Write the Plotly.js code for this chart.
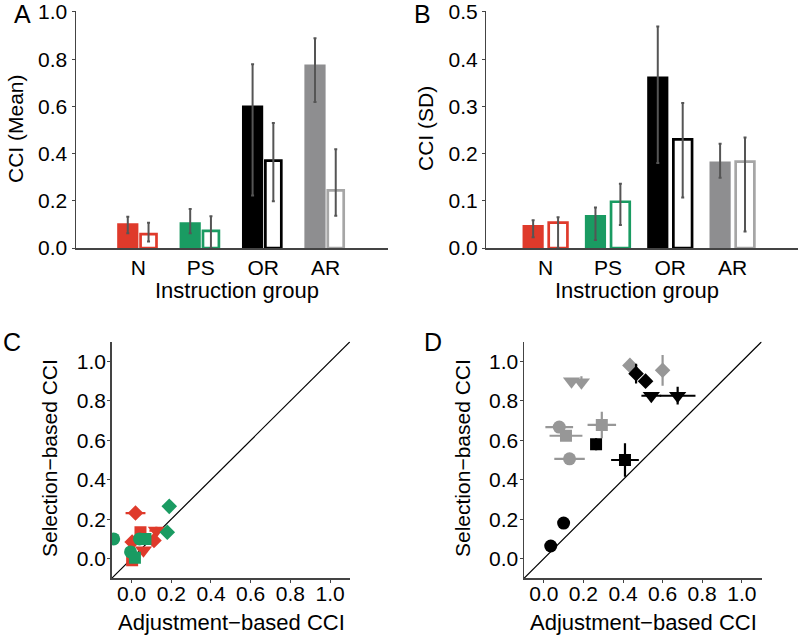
<!DOCTYPE html>
<html>
<head>
<meta charset="utf-8">
<script src="https://cdn.plot.ly/plotly-3.0.1.min.js"></script>
<style>
  html, body { margin: 0; padding: 0; background: #fff; }
  #chart { width: 800px; height: 636px; }
</style>
</head>
<body>
<div id="chart"></div>
<script>
// categories
const groups = ['N', 'PS', 'OR', 'AR'];
const groupPos = [1, 2, 3, 4];

// panel A: CCI mean (filled / open bars, with error bounds)
const meanFilled = [0.105, 0.109, 0.604, 0.777];
const meanFilledHi = [0.132, 0.165, 0.778, 0.888];
const meanFilledLo = [0.063, 0.063, 0.223, 0.618];
const meanOpen = [0.059, 0.073, 0.370, 0.244];
const meanOpenHi = [0.107, 0.135, 0.530, 0.418];
const meanOpenLo = [0.028, 0.000, 0.198, 0.137];

// panel B: CCI SD
const sdFilled = [0.049, 0.070, 0.363, 0.183];
const sdFilledHi = [0.059, 0.086, 0.469, 0.221];
const sdFilledLo = [0.023, 0.017, 0.180, 0.149];
const sdOpen = [0.054, 0.098, 0.230, 0.183];
const sdOpenHi = [0.065, 0.136, 0.307, 0.234];
const sdOpenLo = [0.000, 0.049, 0.107, 0.035];

// y tick values of the bar panels
const meanTicks = [0, 0.2, 0.4, 0.6, 0.8, 1.0];
const sdTicks = [0, 0.1, 0.2, 0.3, 0.4, 0.5];

// panel C: N (red) and PS (green) participants
const cRedX = [0.02, 0.045, 0.125, 0.113, 0.003, 0.06, 0.003];
const cRedY = [0.231, 0.134, 0.142, 0.092, 0.084, 0.042, -0.008];
const cRedSym = ['diamond', 'square', 'triangle-down', 'diamond', 'diamond', 'triangle-down', 'square'];
const cRedEx = [0.05, 0.02, 0.035, 0, 0, 0, 0];
const cRedEy = [0.01, 0.02, 0.02, 0, 0, 0, 0];

const cGreenX = [-0.09, 0.19, 0.18, -0.005, 0.017, 0.04, 0.07];
const cGreenY = [0.10, 0.265, 0.134, 0.034, 0.004, 0.10, 0.10];
const cGreenSym = ['circle', 'diamond', 'diamond', 'circle', 'square', 'circle', 'square'];

// panel D: OR (black) and AR (gray) participants
const dBlackX = [0.035, 0.10, 0.264, 0.41, 0.466, 0.514, 0.543, 0.676];
const dBlackY = [0.064, 0.18, 0.58, 0.50, 0.938, 0.90, 0.826, 0.826];
const dBlackSym = ['circle', 'circle', 'square', 'square', 'diamond', 'diamond', 'triangle-down', 'triangle-down'];
const dBlackEx = [0, 0, 0.015, 0.07, 0.01, 0.01, 0.05, 0.09];
const dBlackEy = [0, 0, 0.03, 0.085, 0.05, 0.01, 0.015, 0.045];

const dGrayX = [0.078, 0.13, 0.112, 0.293, 0.14, 0.19, 0.435, 0.60];
const dGrayY = [0.667, 0.506, 0.623, 0.678, 0.90, 0.895, 0.98, 0.955];
const dGraySym = ['circle', 'circle', 'square', 'square', 'triangle-down', 'triangle-down', 'diamond', 'diamond'];
const dGrayEx = [0.07, 0.077, 0.083, 0.072, 0, 0.01, 0.01, 0];
const dGrayEy = [0.01, 0.01, 0.01, 0.067, 0, 0.03, 0.02, 0.078];

const identityLine = [-0.1, 1.1];
const unitTicks = [0, 0.2, 0.4, 0.6, 0.8, 1.0];

const RED = '#df3a2b';
const GREEN = '#1a9b62';
const BLACK = '#000000';
const GRAY = '#8e8e90';
const LIGHT_GRAY = '#a6a6a6';
const AXIS = '#444444';
const FONT = 'Liberation Sans, Arial, sans-serif';

const barColors = [RED, GREEN, BLACK, GRAY];
const openColors = [RED, GREEN, BLACK, LIGHT_GRAY];
const symbolSize = { circle: 13, square: 12, diamond: 12, 'triangle-down': 15 };

function barTrace({ values, hi, lo, filled, offset, width, xaxis, yaxis }) {
  return {
    type: 'bar',
    x: groupPos,
    y: values,
    xaxis,
    yaxis,
    offset,
    width,
    marker: {
      color: filled ? barColors : '#ffffff',
      line: { color: filled ? barColors : openColors, width: filled ? 0 : 2.7 }
    },
    error_y: {
      type: 'data',
      symmetric: false,
      array: hi.map((h, i) => h - values[i]),
      arrayminus: values.map((v, i) => v - lo[i]),
      color: '#555555',
      thickness: 2,
      width: 1.5
    },
    hoverinfo: 'skip'
  };
}

function pointTrace({ x, y, symbols, color, ex, ey, xaxis, yaxis }) {
  const zeros = x.map(() => 0);
  return {
    type: 'scatter',
    mode: 'markers',
    x,
    y,
    xaxis,
    yaxis,
    marker: {
      color,
      opacity: 1,
      symbol: symbols,
      size: symbols.map((s) => symbolSize[s]),
      line: { width: 0 }
    },
    error_x: { type: 'data', array: ex || zeros, color, thickness: 2.2, width: 0 },
    error_y: { type: 'data', array: ey || zeros, color, thickness: 2.2, width: 0 },
    hoverinfo: 'skip'
  };
}

function identityTrace(xaxis, yaxis) {
  return {
    type: 'scatter',
    mode: 'lines',
    x: identityLine,
    y: identityLine,
    xaxis,
    yaxis,
    line: { color: '#000', width: 1.2 },
    hoverinfo: 'skip'
  };
}

const traces = [
  barTrace({ values: meanFilled, hi: meanFilledHi, lo: meanFilledLo, filled: true, offset: -0.34, width: 0.34, xaxis: 'x', yaxis: 'y' }),
  barTrace({ values: meanOpen, hi: meanOpenHi, lo: meanOpenLo, filled: false, offset: 0.035, width: 0.255, xaxis: 'x', yaxis: 'y' }),
  barTrace({ values: sdFilled, hi: sdFilledHi, lo: sdFilledLo, filled: true, offset: -0.37, width: 0.34, xaxis: 'x2', yaxis: 'y2' }),
  barTrace({ values: sdOpen, hi: sdOpenHi, lo: sdOpenLo, filled: false, offset: 0.05, width: 0.30, xaxis: 'x2', yaxis: 'y2' }),
  identityTrace('x3', 'y3'),
  pointTrace({ x: cRedX, y: cRedY, symbols: cRedSym, color: RED, ex: cRedEx, ey: cRedEy, xaxis: 'x3', yaxis: 'y3' }),
  pointTrace({ x: cGreenX, y: cGreenY, symbols: cGreenSym, color: GREEN, xaxis: 'x3', yaxis: 'y3' }),
  identityTrace('x4', 'y4'),
  pointTrace({ x: dGrayX, y: dGrayY, symbols: dGraySym, color: '#979797', ex: dGrayEx, ey: dGrayEy, xaxis: 'x4', yaxis: 'y4' }),
  pointTrace({ x: dBlackX, y: dBlackY, symbols: dBlackSym, color: BLACK, ex: dBlackEx, ey: dBlackEy, xaxis: 'x4', yaxis: 'y4' })
];

const baseAxis = {
  showgrid: false,
  zeroline: false,
  showline: true,
  linecolor: AXIS,
  linewidth: 1.5,
  tickcolor: AXIS,
  tickfont: { size: 21, color: '#000', family: FONT },
  ticklabeloverflow: 'allow',
  fixedrange: true
};

const fmt = (ticks) => ticks.map((t) => t.toFixed(1));

const catX = (domain, range, anchor) => ({
  ...baseAxis, domain, range, anchor,
  tickmode: 'array', tickvals: groupPos, ticktext: groups, ticks: ''
});
const valY = (domain, ticks, anchor) => {
  const top = ticks[ticks.length - 1];
  return {
    ...baseAxis, domain, range: [ticks[0], top * 1.002], anchor,
    tickmode: 'array', tickvals: ticks, ticktext: fmt(ticks), ticks: 'outside', ticklen: 3
  };
};
const unitAxis = (domain, anchor, standoff) => ({
  ...baseAxis, domain, range: identityLine, anchor,
  tickmode: 'array', tickvals: unitTicks, ticktext: fmt(unitTicks),
  ticks: 'outside', ticklen: 3, ticklabelstandoff: standoff
});

function label(text, x, y, size, angle) {
  return {
    text, x: x / 800, y: 1 - y / 636, xref: 'paper', yref: 'paper',
    showarrow: false, xanchor: 'center', yanchor: 'middle',
    textangle: angle || 0, font: { size, color: '#000', family: FONT }
  };
}

const layout = {
  width: 800,
  height: 636,
  margin: { l: 0, r: 0, t: 0, b: 0 },
  paper_bgcolor: '#fff',
  plot_bgcolor: '#fff',
  font: { family: FONT, color: '#000' },
  showlegend: false,
  barmode: 'overlay',
  xaxis: catX([0.095, 0.485], [0, 5], 'y'),
  yaxis: valY([0.61, 0.982], meanTicks, 'x'),
  xaxis2: catX([0.608, 0.9975], [0.05, 5.05], 'y2'),
  yaxis2: valY([0.61, 0.982], sdTicks, 'x2'),
  xaxis3: unitAxis([0.1396, 0.4375], 'y3', -7),
  yaxis3: unitAxis([0.0907, 0.4627], 'x3', -3),
  xaxis4: unitAxis([0.655, 0.952], 'y4', -7),
  yaxis4: unitAxis([0.0907, 0.4627], 'x4', -3),
  annotations: [
    label('A', 22, 14, 25),
    label('B', 422, 14, 25),
    label('C', 12, 342, 25),
    label('D', 433, 342, 25),
    label('CCI (Mean)', 15, 129, 21, -90),
    label('CCI (SD)', 425, 129, 21, -90),
    label('Instruction group', 237, 290, 22),
    label('Instruction group', 637, 290, 22),
    label('Selection\u2212based CCI', 50, 458, 21, -90),
    label('Selection\u2212based CCI', 463, 458, 21, -90),
    label('Adjustment\u2212based CCI', 232, 622, 22),
    label('Adjustment\u2212based CCI', 643, 622, 22)
  ]
};

Plotly.newPlot('chart', traces, layout, { staticPlot: true, displayModeBar: false });
</script>
</body>
</html>
